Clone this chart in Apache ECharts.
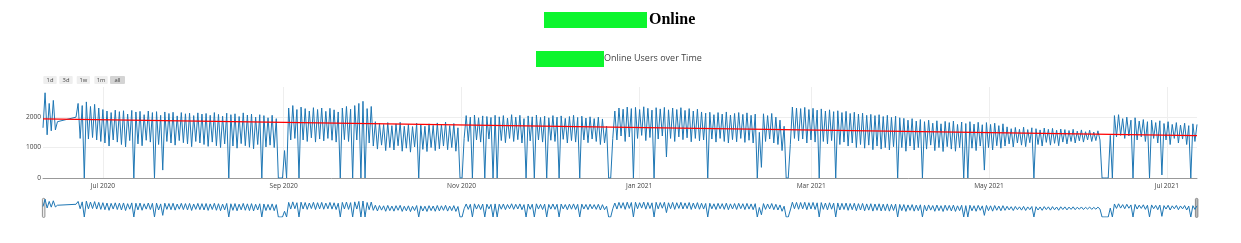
<!DOCTYPE html>
<html>
<head>
<meta charset="utf-8">
<script src="https://cdn.jsdelivr.net/npm/echarts@6/dist/echarts.min.js"></script>
<style>
html,body{margin:0;padding:0;background:#fff;}
#chart{width:1241px;height:243px;}
</style>
</head>
<body>
<div id="chart"></div>
<script>
// ---- data ----
const startDate = [2020, 5, 10, 10];   // first sample (local time)
const cycleHours = 34;                  // spacing of one trough/peak stroke
const troughs = [
  1650,1420,1550,1580,null,null,null,null,2000,1300,
  0,1280,1330,1250,1200,1150,1050,1250,1180,1100,
  1020,1230,0,1120,1060,1240,1180,0,1100,260,
  1200,1150,1080,1230,1160,1120,1030,1200,1150,1100,
  1040,1180,1060,1000,1120,0,1050,980,1130,1060,
  1010,960,1100,0,1020,1080,1000,0,0,0,
  1250,1300,0,1250,1200,1320,1180,1280,1220,1300,
  1240,1180,0,1260,1200,0,1250,0,0,1150,
  1050,950,1080,900,1000,920,1060,880,980,850,
  1020,0,940,870,1000,900,960,1050,930,1000,
  880,0,1300,1200,0,1250,1180,0,1280,0,
  0,1230,1160,1300,1200,1260,1150,0,1220,0,
  1250,1180,0,1240,1200,0,1270,1150,1230,1180,
  0,1250,1160,1280,1200,1100,1150,0,1300,1250,
  1380,1200,1350,0,1300,1400,1230,1330,0,1280,
  1380,690,1300,1200,1350,1260,1320,1190,1300,1220,
  1250,0,1280,1180,1300,1200,1150,1260,1190,1300,
  1170,1240,1150,0,350,1200,1280,1150,1100,900,
  0,1100,1300,1220,1280,1150,1250,1180,0,1200,
  1120,1230,0,1100,1180,1050,1150,1000,1100,980,
  1080,930,1050,950,1000,920,1030,0,1000,880,
  1050,920,1000,0,950,1080,900,1000,870,1030,
  950,880,1000,0,0,980,900,1050,260,1000,
  920,1060,980,1050,1120,1020,1150,1080,1030,1160,
  0,1100,1050,1170,1080,1140,1060,1180,1120,1200,
  1150,1220,1180,1250,1200,1230,1250,0,0,0,
  1350,1400,1300,1380,0,1250,1350,1200,0,1300,
  1150,100,1250,1100,1300,1150,1280,1100,0,1200
];
const peaks = [
  2800,2450,2550,1850,null,null,null,null,2450,2380,
  2500,2350,2420,2300,2250,2200,2150,2230,2180,2210,
  2100,2220,2170,2190,2080,2200,2150,2180,2060,2170,
  2120,2160,2040,2150,2110,2130,2050,2140,2100,2120,
  2060,2150,2090,2030,2130,2080,2110,2020,2140,2070,
  2100,2000,2080,2050,1980,2060,1950,0,900,2300,
  2380,2250,2330,2280,2200,2310,2250,2300,2190,2290,
  2240,2170,2300,2350,2260,2380,2450,2520,2280,2350,
  1850,1800,1760,1820,1720,1780,1830,1700,1760,1690,
  1800,1750,1700,1780,1730,1810,1760,1840,1720,1790,
  1650,0,2050,2000,2070,1980,2040,2020,1990,2060,
  2010,2050,1970,2080,2000,2060,1950,2040,2010,2070,
  1990,2030,1980,2050,2000,2040,1960,2020,2060,1990,
  2030,1970,2010,1950,2000,1940,1700,0,2200,2300,
  2260,2330,2280,2320,2250,2340,2290,2230,2310,2270,
  2320,2240,2300,2250,2310,2220,2280,2200,2260,2170,
  2130,2160,2080,2150,2100,2170,2070,2120,2150,2090,
  2140,2060,2100,1500,2110,2050,2120,2000,1900,1700,
  0,2330,2300,2280,2320,2250,2290,2230,2270,2200,
  2240,2180,2210,2150,2190,2120,2160,2100,2130,2060,
  2090,2050,2080,2020,2060,1990,2030,1980,1960,1900,
  1950,1870,1920,1850,1900,1800,1880,1780,1860,1820,
  1870,1760,1840,1790,1850,1770,1830,1750,1820,1760,
  1800,1720,1780,1680,1620,1660,1600,1670,1590,1650,
  1620,1580,1640,1600,1630,1570,1610,1590,1560,1600,
  1540,1580,1520,1570,1510,1550,0,0,1400,2050,
  2080,1950,2000,1900,1980,1870,1920,1850,1900,1820,
  1880,1790,1850,1760,1820,1740,1800,1720,1780,1760
];
const trendValues = [1940, 1390];        // regression line, start and end
const tickDates = ['2020-07-01','2020-09-01','2020-11-01','2021-01-01','2021-03-01','2021-05-01','2021-07-01'];
const tickLabels = ['Jul 2020','Sep 2020','Nov 2020','Jan 2021','Mar 2021','May 2021','Jul 2021'];
const yTicks = [0, 1000, 2000];
const rangeButtons = ['1d','3d','1w','1m','all'];

// ---- build series ----
const t0 = new Date(startDate[0], startDate[1], startDate[2], startDate[3]).getTime();
const cyc = cycleHours * 3600 * 1000;
const tEnd = t0 + (troughs.length - 0.5) * cyc;
const users = [];
for (let i = 0; i < troughs.length; i++) {
  if (troughs[i] !== null) users.push([t0 + i * cyc, troughs[i]]);
  if (peaks[i] !== null) users.push([t0 + (i + 0.5) * cyc, peaks[i]]);
}
const trend = [[t0, trendValues[0]], [tEnd, trendValues[1]]];
const tickTimes = tickDates.map(s => { const p = s.split('-').map(Number); return new Date(p[0], p[1]-1, p[2]).getTime(); });
function xLabel(v) { const k = tickTimes.indexOf(v); return k >= 0 ? tickLabels[k] : ''; }

// range-selector buttons
const btnX = [43.3, 59.3, 76.7, 94.3, 110];
const btnW = [13.4, 13.4, 13.3, 13.4, 15];
const btnGraphics = rangeButtons.map((b, k) => ({
  type: 'group', left: btnX[k], top: 76,
  children: [
    {type: 'rect', shape: {x: 0, y: 0, width: btnW[k], height: 8, r: 1},
     style: {fill: b === 'all' ? '#d4d4d4' : '#eeeeee'}},
    {type: 'text', x: btnW[k] / 2, y: 4,
     style: {text: b, fill: '#444', font: '5.8px "Open Sans"', align: 'center', verticalAlign: 'middle'}}
  ]
}));

const chart = echarts.init(document.getElementById('chart'), null, {renderer: 'canvas'});
chart.setOption({
  animation: false,
  backgroundColor: '#ffffff',
  grid: [
    {left: 43, width: 1154, top: 87, height: 91},
    {left: 43, width: 1154, top: 198, height: 19}
  ],
  xAxis: [
    {type: 'value', gridIndex: 0, min: t0, max: tEnd,
     axisLine: {show: true, onZero: false, lineStyle: {color: '#999', width: 1}},
     axisTick: {show: false, customValues: tickTimes},
     axisLabel: {customValues: tickTimes, formatter: xLabel, fontSize: 6.6, color: '#444', margin: 5, fontFamily: 'Open Sans'},
     splitLine: {show: true, lineStyle: {color: '#eeeeee', width: 1}}},
    {type: 'value', gridIndex: 1, min: t0, max: tEnd, show: false}
  ],
  yAxis: [
    {type: 'value', gridIndex: 0, min: 0, max: 2990,
     axisLine: {show: false}, axisTick: {show: false, customValues: yTicks},
     axisLabel: {customValues: yTicks, fontSize: 6.6, color: '#444', margin: 2, fontFamily: 'Open Sans', formatter: v => String(v)},
     splitLine: {show: true, lineStyle: {color: '#eeeeee', width: 1}}},
    {type: 'value', gridIndex: 1, min: 0, max: 2990, show: false}
  ],
  series: [
    {type: 'line', name: 'Online Users', xAxisIndex: 0, yAxisIndex: 0, data: users,
     showSymbol: false, symbol: 'none', silent: true, z: 2,
     lineStyle: {color: '#1f77b4', width: 1}},
    {type: 'line', name: 'Trend', xAxisIndex: 0, yAxisIndex: 0, data: trend,
     showSymbol: false, symbol: 'none', silent: true, z: 3,
     lineStyle: {color: '#ff0000', width: 1.3}},
    {type: 'line', name: 'Slider', xAxisIndex: 1, yAxisIndex: 1, data: users,
     showSymbol: false, symbol: 'none', silent: true, z: 2,
     lineStyle: {color: '#1f77b4', width: 1}}
  ],
  graphic: [
    {type: 'rect', left: 544, top: 12, shape: {width: 103, height: 16}, style: {fill: '#0cf52d'}},
    {type: 'text', left: 649, top: 12, style: {text: 'Online', fill: '#000', font: 'bold 16px "Liberation Serif"'}},
    {type: 'rect', left: 536, top: 51, shape: {width: 68, height: 16}, style: {fill: '#0cf52d'}},
    {type: 'text', left: 604, top: 54, style: {text: 'Online Users over Time', fill: '#444', font: '9px "Open Sans"'}},
    {type: 'rect', left: 42, top: 198, shape: {width: 2.5, height: 19, r: 1}, style: {fill: '#eeeeee', stroke: '#777', lineWidth: 0.8}},
    {type: 'rect', left: 1195, top: 198, shape: {width: 2.5, height: 19, r: 1}, style: {fill: '#bbbbbb', stroke: '#777', lineWidth: 0.8}}
  ].concat(btnGraphics)
});
</script>
</body>
</html>
